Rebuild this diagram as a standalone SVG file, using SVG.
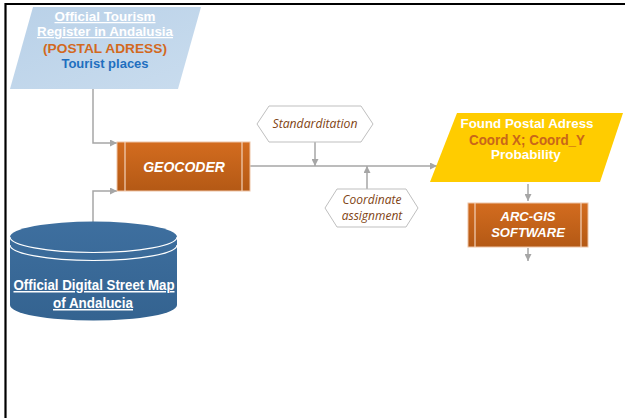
<svg xmlns="http://www.w3.org/2000/svg" width="625" height="418" viewBox="0 0 625 418">
<defs>
<linearGradient id="og" x1="0" y1="0" x2="0" y2="1">
<stop offset="0" stop-color="#d36c1f"/>
<stop offset="1" stop-color="#b45915"/>
</linearGradient>
<linearGradient id="bg" x1="0" y1="0" x2="0" y2="1">
<stop offset="0" stop-color="#3e6f9f"/>
<stop offset="1" stop-color="#346390"/>
</linearGradient>
<linearGradient id="lb" x1="0" y1="0" x2="1" y2="1">
<stop offset="0" stop-color="#b9d1e8"/>
<stop offset="1" stop-color="#c9dcee"/>
</linearGradient>
<marker id="ar" viewBox="0 0 10 10" refX="10" refY="5" markerWidth="7" markerHeight="7" markerUnits="userSpaceOnUse" orient="auto">
<path d="M0,0 L10,5 L0,10 z" fill="#a6a6a6"/>
</marker>
<style>
text{font-family:"Liberation Sans",Arial,sans-serif;}
.c{fill:none;stroke:#a6a6a6;stroke-width:1.5;marker-end:url(#ar);}
.box{fill:url(#og);stroke:#eec4a6;stroke-width:1;}
.in{stroke:#f3d2bb;stroke-width:1.2;}
.bt{fill:#fff;font-weight:bold;font-style:italic;text-anchor:middle;}
.hx{fill:#fff;stroke:#bfbfbf;stroke-width:1;}
.ht{fill:#7f4414;font-style:italic;font-size:12px;text-anchor:middle;font-family:"Open Sans","DejaVu Sans",sans-serif;}
.wt{fill:#fff;font-weight:bold;text-anchor:middle;}
</style>
</defs>
<rect width="625" height="418" fill="#fff"/>
<path d="M5,4 H625 M5.5,3 V418" stroke="#000" stroke-width="2.2" fill="none"/>

<g id="connectors">
<path class="c" d="M93,89 V143 H117"/>
<path class="c" d="M93,222 V191 H117"/>
<path class="c" d="M250,166 H437"/>
<path class="c" d="M315,142 V166"/>
<path class="c" d="M367,189 V166"/>
<path class="c" d="M528,184 V201"/>
<path class="c" d="M528,248 V261"/>
</g>

<g id="tourism">
<polygon points="33,7 201,7 178,89 10,89" fill="url(#lb)"/>
<text class="wt" x="105" y="21" font-size="12.5" text-decoration="underline" textLength="101" lengthAdjust="spacingAndGlyphs">Official Tourism</text>
<text class="wt" x="105" y="36" font-size="12.5" text-decoration="underline" textLength="136" lengthAdjust="spacingAndGlyphs">Register in Andalusia</text>
<text x="105" y="53" font-size="13.5" font-weight="bold" fill="#d2691e" text-anchor="middle" textLength="124" lengthAdjust="spacingAndGlyphs">(POSTAL ADRESS)</text>
<text x="105" y="68" font-size="13" font-weight="bold" fill="#1f6fbf" text-anchor="middle">Tourist places</text>
</g>

<g id="geocoder">
<rect class="box" x="117" y="142" width="133" height="49"/>
<line class="in" x1="125" y1="142" x2="125" y2="191"/>
<line class="in" x1="242" y1="142" x2="242" y2="191"/>
<text class="bt" x="184" y="172" font-size="14">GEOCODER</text>
</g>

<g id="streetmap">
<path d="M10,237 A83.5,15.5 0 0 1 177,237 V305 A83.5,15.5 0 0 1 10,305 Z" fill="url(#bg)"/>
<path d="M10,237 A83.5,15.5 0 0 0 177,237" fill="none" stroke="#fff" stroke-width="1.2"/>
<path d="M10,245 A83.5,15.5 0 0 0 177,245" fill="none" stroke="#fff" stroke-width="1.2"/>
<text class="wt" x="94" y="290" font-size="15" text-decoration="underline" textLength="161" lengthAdjust="spacingAndGlyphs">Official Digital Street Map</text>
<text class="wt" x="93" y="308" font-size="15" text-decoration="underline" textLength="80" lengthAdjust="spacingAndGlyphs">of Andalucia</text>
</g>

<g id="standarditation">
<polygon class="hx" points="257,124 269,106 361,106 373,124 361,142 269,142"/>
<text class="ht" x="315" y="128" textLength="85" lengthAdjust="spacingAndGlyphs">Standarditation</text>
</g>

<g id="coordinate">
<polygon class="hx" points="325,208 337,189 406,189 418,208 406,227 337,227"/>
<text class="ht" x="372" y="204">Coordinate</text>
<text class="ht" x="372" y="220">assignment</text>
</g>

<g id="found">
<polygon points="457,113 623,113 600,182 430,182" fill="#ffcc00"/>
<text class="wt" x="527" y="128" font-size="13.5" textLength="133" lengthAdjust="spacingAndGlyphs">Found Postal Adress</text>
<text x="527" y="145" font-size="14" font-weight="bold" fill="#c9661a" text-anchor="middle" textLength="116" lengthAdjust="spacingAndGlyphs">Coord X; Coord_Y</text>
<text class="wt" x="526" y="159" font-size="13.5">Probability</text>
</g>

<g id="arcgis">
<rect class="box" x="468" y="203" width="120" height="44"/>
<line class="in" x1="475" y1="203" x2="475" y2="247"/>
<line class="in" x1="581" y1="203" x2="581" y2="247"/>
<text class="bt" x="528" y="221" font-size="13">ARC-GIS</text>
<text class="bt" x="528" y="237" font-size="13">SOFTWARE</text>
</g>
</svg>
